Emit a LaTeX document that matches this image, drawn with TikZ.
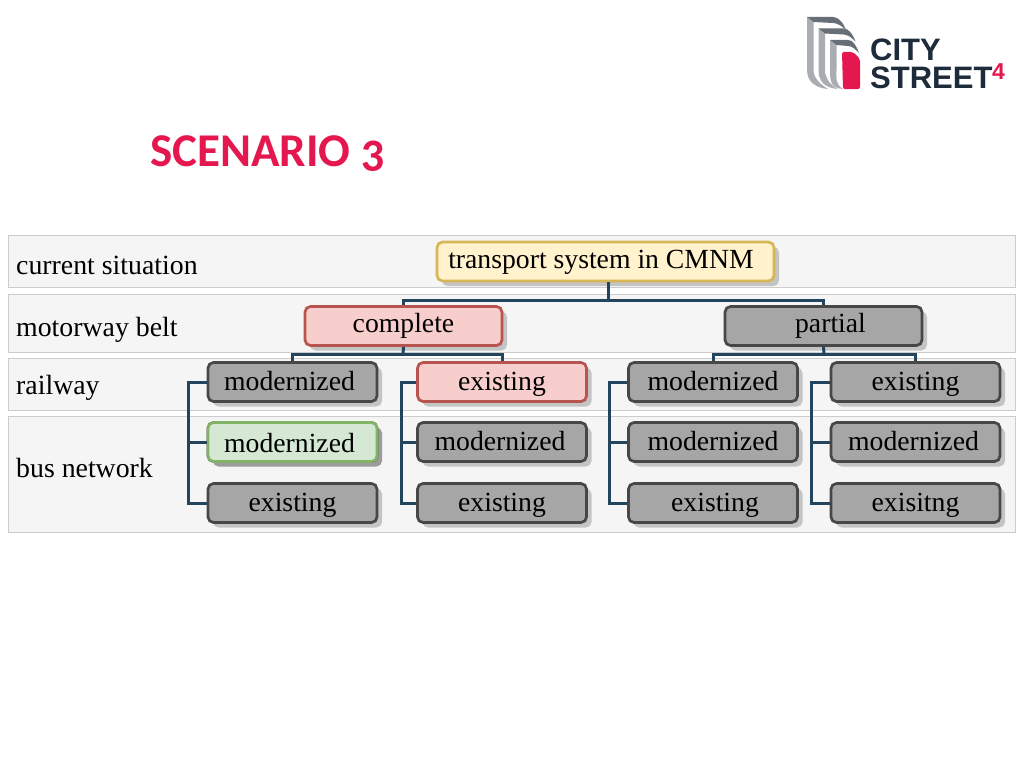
\documentclass[tikz,border=0pt]{standalone}
\usepackage{fontspec}
\setmainfont{Liberation Serif}
\newfontfamily\titlefont[Numbers=OldStyle]{Carlito}
\newfontfamily\logofont{Liberation Sans}
\usetikzlibrary{shadows}
\definecolor{titlered}{HTML}{E5174F}
\definecolor{logodark}{HTML}{1E2B3A}
\definecolor{logogrey}{HTML}{A9ADB2}
\definecolor{logoslate}{HTML}{666E78}
\definecolor{linkblue}{HTML}{23445D}
\definecolor{greyfill}{HTML}{A6A6A6}
\definecolor{greyline}{HTML}{474747}
\definecolor{redfill}{HTML}{F8CECC}
\definecolor{redline}{HTML}{B85450}
\definecolor{greenfill}{HTML}{D5E8D4}
\definecolor{greenline}{HTML}{82B366}
\definecolor{yellowfill}{HTML}{FFF2CC}
\definecolor{yellowline}{HTML}{D6B656}
\newcommand\nudge[2]{\hspace*{#1pt}#2}
\tikzset{
	band/.style={draw=black!20,fill=black!4,line width=1pt},
	rowlabel/.style={anchor=base west,font=\fontsize{27.8}{30}\selectfont,inner sep=0pt},
	box/.style={rounded corners=5.5pt,line width=2.7pt,minimum height=39pt,inner sep=0pt,
		font=\fontsize{27.7}{30}\selectfont,text height=20pt,text depth=4pt,
		drop shadow={shadow xshift=5pt,shadow yshift=-5pt,fill=black,opacity=.2}},
	upper/.style={text depth=8pt},
	greybox/.style={box,draw=greyline,fill=greyfill},
	redbox/.style={box,draw=redline,fill=redfill},
	greenbox/.style={box,draw=greenline,fill=greenfill,text depth=0pt},
	yellowbox/.style={box,draw=yellowline,fill=yellowfill},
	link/.style={draw=linkblue,line width=3pt}
}
\begin{document}
\begin{tikzpicture}[x=1pt,y=-1pt]
	\useasboundingbox (0,0) rectangle (1024,768);
	\path (150,166) node[anchor=base west,inner sep=0pt,text=titlered,font=\titlefont\bfseries\fontsize{47}{50}\selectfont](title){SCENARIO\hspace{11pt}3};
	% logo
	\foreach \X/\Y/\t/\w/\p in {807/17/21/26/39,818.5/28.5/19/25/37,830/40/13/18/29}{
	\fill[logogrey] (\X,\Y)--(\X+6.5,\Y+5)--(\X+6.5,70) .. controls (\X+6.5,78) and (\X+\t-8,84) .. (\X+\t,89) .. controls (\X+\t-12,88) and (\X,82) .. (\X,70)--cycle;
	\fill[logoslate] (\X,\Y)--(\X+\w,\Y) .. controls (\X+\w+5,\Y) and (\X+\p-3,\Y+5) .. (\X+\p,\Y+13) .. controls (\X+\p-4,\Y+9) and (\X+\w+4,\Y+6) .. (\X+\w,\Y+6)--(\X+6.5,\Y+5)--cycle;
	}
	\fill[titlered,rounded corners=2pt] (842,52)--(853,52)--(860,59)--(860,89)--(843,89)--cycle;
	\path (870,89) node[anchor=south west,inner sep=0pt,align=left,text=logodark,font=\logofont\bfseries\fontsize{31}{28}\selectfont](logotext){CITY\\STREET};
	\path (992,79) node[anchor=base west,inner sep=0pt,text=titlered,font=\logofont\bfseries\fontsize{23}{24}\selectfont](logofour){4};
	% bands
	\foreach \ya/\yb in {235.5/287.5,294/352,358.5/410.5,416.5/532}
	\draw[band] (8.5,\ya) rectangle (1015.5,\yb);
	\foreach \y/\texn in {274/current situation,336/motorway belt,394/railway,477/bus network}
	\path (16,\y) node[rowlabel]{\texn};
	% boxes
	\node[yellowbox,upper,text depth=7pt,minimum width=337pt] (root) at (605.5,261.5) {\nudge{-9}{transport system in CMNM}};
	\node[redbox,upper,minimum width=197pt] (complete) at (403.5,326) {complete};
	\node[greybox,upper,minimum width=197pt] (partial) at (823.5,326) {\nudge{14}{partial}};
	\foreach \n/\x/\sty/\texa/\texb/\texc in {
	a/292.5/greybox/\nudge{-6}{modernized}//existing,
	b/502/redbox/existing/\nudge{-4}{modernized}/existing,
	c/713/greybox/modernized/modernized/\nudge{4}{existing},
	d/915.5/greybox/existing/\nudge{-4}{modernized}/exisitng}
	{
	\node[\sty,minimum width=169pt] (\n1) at (\x,382) {\texa};
	\node[greybox,minimum width=169pt] (\n2) at (\x,442) {\texb};
	\node[greybox,minimum width=169pt] (\n3) at (\x,503) {\texc};
	}
	\node[greenbox,minimum width=169pt] (a2) at (292.5,442) {\nudge{-6}{modernized}};
	% links
	\coordinate (rootjoin) at (608,300);
	\coordinate (completejoin) at (403,354);
	\coordinate (partialjoin) at (824,354);
	\coordinate (ajoin) at (188,442);
	\coordinate (bjoin) at (401,442);
	\coordinate (cjoin) at (609,442);
	\coordinate (djoin) at (811,442);
	\draw[link] (root.south -| rootjoin)--(rootjoin);
	\draw[link] (complete.north) |- (rootjoin) -| (partial.north);
	\draw[link] (complete.south)--(completejoin);
	\draw[link] (a1.north) |- (completejoin) -| (b1.north);
	\draw[link] (partial.south)--(partialjoin);
	\draw[link] (c1.north) |- (partialjoin) -| (d1.north);
	\foreach \n in {a,b,c,d}{
	\draw[link] (\n1.west) -| (\n join) |- (\n3.west);
	\draw[link] (\n join)--(\n2.west);
	}
\end{tikzpicture}
\end{document}
